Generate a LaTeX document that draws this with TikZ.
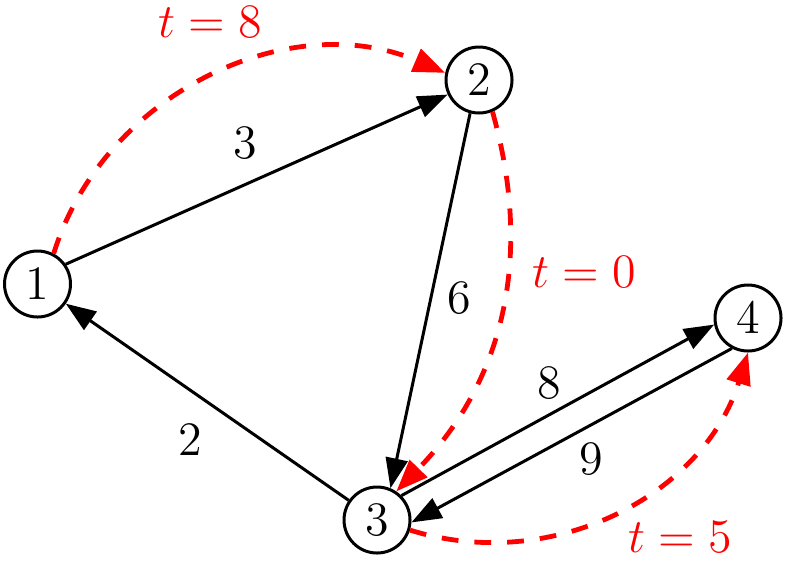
\documentclass[tikz,border=0pt]{standalone}
\usetikzlibrary{arrows.meta}
\tikzset{
  vertex/.style={draw, shape=circle, line width=0.75pt, minimum size=16.5pt, inner sep=0pt, font=\fontsize{12.4}{14}\selectfont},
  arc/.style={line width=0.75pt, -{Triangle[length=7.5pt,width=5.5pt]}},
  tarc/.style={red, line width=1.2pt, dash pattern=on 4.2pt off 4pt, -{Triangle[length=8pt,width=6pt]}},
  wlabel/.style={font=\fontsize{12.4}{14}\selectfont},
  tlabel/.style={red, font=\fontsize{12.4}{14}\selectfont}
}
\begin{document}
\begin{tikzpicture}[x=0.25pt, y=0.25pt]
            \useasboundingbox (0,0) rectangle (788,560);
            \node (v1) at (37.5,276) [vertex] {$1$};
            \node (v2) at (479,480) [vertex] {$2$};
            \node (v3) at (377,40) [vertex] {$3$};
            \node (v4) at (748,242) [vertex] {$4$};

            \draw[arc] (v1.35) -- (v2.205);
            \draw[arc] (v2.255) -- (v3.67);
            \draw[arc] (v3) -- (v1);
            \draw[arc] (v3.45) -- (v4.191);
            \draw[arc] (v4.242) -- (v3.-4);

            \draw[tarc] (v1.62) to[bend left=48] (v2.168);
            \draw[tarc] (v2.-67) to[bend left=30] (v3.56);
            \draw[tarc] (v3.-17) to[bend right=45] (v4.270);

            \node (e12) at (245,417) [wlabel] {$3$};
            \node (e23) at (459,262) [wlabel] {$6$};
            \node (e31) at (190,120) [wlabel] {$2$};
            \node (e34) at (549,177) [wlabel] {$8$};
            \node (e43) at (591,101) [wlabel] {$9$};

            \node (t12) at (210,538) [tlabel] {$t=8$};
            \node (t23) at (584,288) [tlabel] {$t=0$};
            \node (t34) at (680,23) [tlabel] {$t=5$};
        \end{tikzpicture}
\end{document}
